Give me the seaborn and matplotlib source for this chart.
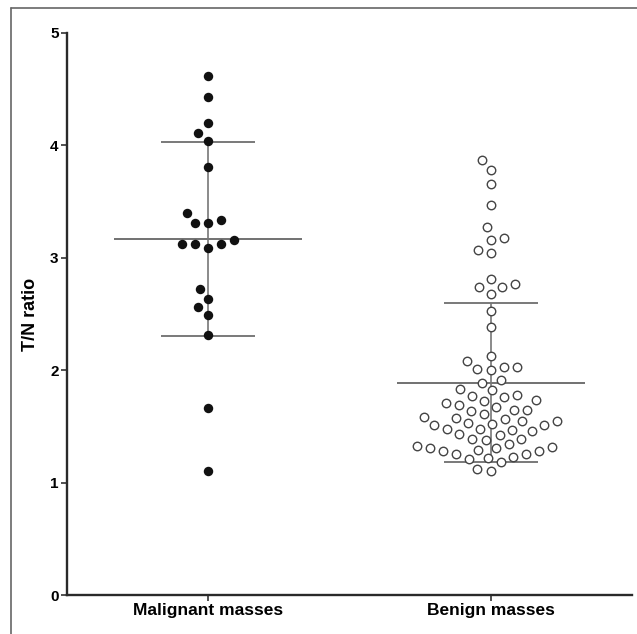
import numpy as np
import pandas as pd
import matplotlib
matplotlib.use("Agg")
import matplotlib.pyplot as plt
import seaborn as sns
from matplotlib.lines import Line2D

# Datos
groups = ["Malignant masses", "Benign masses"]

malignant = [4.62, 4.43, 4.20, 4.11, 4.04, 3.81, 3.40, 3.34, 3.31, 3.31,
             3.155, 3.12, 3.12, 3.12, 3.09, 2.72, 2.63, 2.56, 2.49, 2.31,
             1.66, 1.10]

benign = [3.87, 3.78, 3.66, 3.47, 3.27, 3.16, 3.18, 3.07, 3.04, 2.81,
          2.77, 2.74, 2.74, 2.68, 2.53, 2.38,
          2.13, 2.085, 2.03, 2.00, 2.01, 2.03,
          1.89, 1.91,
          1.82, 1.77, 1.76, 1.78, 1.83,
          1.73, 1.69, 1.65, 1.64, 1.65, 1.67, 1.71, 1.735,
          1.61, 1.575, 1.55, 1.53, 1.51, 1.51, 1.52, 1.545, 1.57, 1.58,
          1.48, 1.47, 1.43, 1.39, 1.39, 1.38, 1.42, 1.46, 1.48,
          1.32, 1.31, 1.29, 1.28, 1.25, 1.23, 1.25, 1.28, 1.31, 1.325, 1.34,
          1.22, 1.18, 1.21,
          1.105, 1.125]

yticks = [0, 1, 2, 3, 4, 5]

sns.set_style("white")
plt.rcParams['font.family'] = ['Liberation Sans', 'DejaVu Sans']
plt.rcParams['text.color'] = 'black'
plt.rcParams['axes.labelcolor'] = 'black'
plt.rcParams['xtick.color'] = '#222222'
plt.rcParams['ytick.color'] = '#222222'

df = pd.DataFrame({
    "grupo": [groups[0]] * len(malignant) + [groups[1]] * len(benign),
    "ratio": malignant + benign,
})

fig = plt.figure(figsize=(6.37, 6.34), dpi=100)
ax = fig.add_axes([0.1052, 0.0615, 0.8868, 0.8865])

# swarm con tamaño de colisión grande (separación tipo Prism)
sns.swarmplot(data=df, x="grupo", y="ratio", order=groups, ax=ax,
              size=9.2, linewidth=0, color="black")

ax.set_xlim(-0.5, 1.5)
ax.set_ylim(0, 5)

# calcular posiciones con el tamaño grande y luego fijarlas
fig.canvas.draw()
for i, coll in enumerate(ax.collections):
    if "draw" in coll.__dict__:
        del coll.draw
    if i == 0:
        coll.set_sizes([6.8 ** 2])
        coll.set_facecolor("#111111")
        coll.set_edgecolor("#111111")
        coll.set_linewidth(0)
    else:
        coll.set_sizes([6.1 ** 2])
        coll.set_facecolor("white")
        coll.set_edgecolor("#444444")
        coll.set_linewidth(1.0)
    coll.set_zorder(3)

# media y desviación estándar
for pos, vals in enumerate([malignant, benign]):
    m = np.mean(vals)
    sd = np.std(vals, ddof=1)
    ax.hlines(m, pos - 0.333, pos + 0.333, color="#666666", lw=1.3, zorder=2)
    ax.hlines([m - sd, m + sd], pos - 0.167, pos + 0.167, color="#555555",
              lw=1.1, zorder=2)
    ax.vlines(pos, m - sd, m + sd, color="#777777", lw=1.2, zorder=2)

ax.set_yticks(yticks)
ax.set_yticklabels([str(t) for t in yticks], fontsize=11, fontweight="bold",
                   color="black")
ax.set_xticks([0, 1])
ax.set_xticklabels(groups, fontsize=12.5, fontweight="bold", color="black")
ax.set_xlabel("")
ax.set_ylabel("T/N ratio", fontsize=13, fontweight="bold", labelpad=8)

for side in ["top", "right"]:
    ax.spines[side].set_visible(False)
for side in ["left", "bottom"]:
    ax.spines[side].set_color("#2a2a2a")
    ax.spines[side].set_linewidth(1.7)
ax.tick_params(axis="both", direction="out", length=4, width=1.2,
               color="#333333", pad=2, left=True, bottom=True)

# marco exterior (arriba e izquierda)
x0 = 11 / 637
y0 = 1 - 8 / 634
fig.add_artist(Line2D([x0, x0], [0, y0], transform=fig.transFigure,
                      color="#666666", lw=1.2))
fig.add_artist(Line2D([x0, 1], [y0, y0], transform=fig.transFigure,
                      color="#666666", lw=1.2))

fig.savefig("out.png", dpi=100)
